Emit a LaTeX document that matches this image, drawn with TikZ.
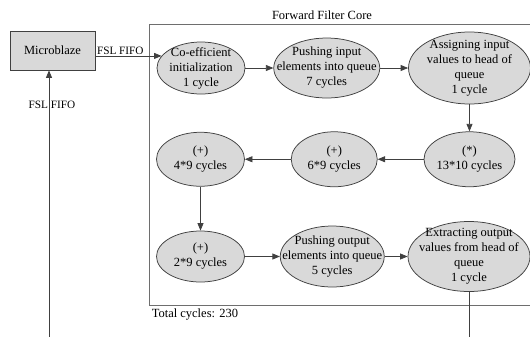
\documentclass[tikz,border=0pt]{standalone}
\usepackage{fontspec}
\setmainfont{Liberation Serif}
\usetikzlibrary{shapes.geometric,positioning,arrows.meta}
\definecolor{linegray}{HTML}{404040}
\definecolor{boxgray}{HTML}{6E6E6E}
\definecolor{fillgray}{HTML}{D9D9D9}

\begin{document}
\begin{tikzpicture}[x=0.8pt, y=0.8pt, font=\fontsize{10}{12}\selectfont,
  stage/.style={ellipse, draw=linegray, fill=fillgray, align=center, inner sep=-40pt, line width=0.6pt},
  flow/.style={draw=linegray, line width=0.6pt, -{Triangle[length=6pt,width=4.8pt]}},
  lbl/.style={font=\fontsize{9}{11}\selectfont, inner sep=1pt}]

\clip (0,0) rectangle (530,-336);

\node (mb) [rectangle, draw=linegray, fill=fillgray, line width=0.6pt, minimum width=68pt, minimum height=31.2pt] at (52.5,-50.5) {Microblaze};
\node (core) [rectangle, draw=boxgray, line width=0.6pt, minimum width=330pt, minimum height=224.8pt, anchor=north west] at (149,-24) {};
\node (title) at (322,-15) {Forward Filter Core};
\node (total) [anchor=north west, inner sep=2pt] at (core.south west) {Total cycles: 230};

\node (coef) [stage, minimum width=70.4pt, minimum height=41.6pt] at (201,-68) {Co-efficient\\initialization\\1 cycle};
\node (pin) [stage, minimum width=84.8pt, minimum height=48pt, right=22.4pt of coef] {Pushing input\\elements into queue\\7 cycles};
\node (asg) [stage, minimum width=97.6pt, minimum height=57.6pt, right=22.4pt of pin] {Assigning input\\values to head of\\queue\\1 cycle};
\node (mult) [stage, minimum width=72.8pt, minimum height=44pt, below=21.6pt of asg] {(*)\\13*10 cycles};
\node (add6) [stage, minimum width=68.8pt, minimum height=44pt, left=36.8pt of mult] {(+)\\6*9 cycles};
\node (add4) [stage, minimum width=70.4pt, minimum height=43.2pt, left=36.8pt of add6] {(+)\\4*9 cycles};
\node (add2) [stage, minimum width=70.4pt, minimum height=40.8pt, below=35.2pt of add4] {(+)\\2*9 cycles};
\node (pout) [stage, minimum width=83.2pt, minimum height=48.8pt, right=28pt of add2] {Pushing output\\elements into queue\\5 cycles};
\node (ext) [stage, minimum width=97.6pt, minimum height=56pt, right=18.4pt of pout] {Extracting output\\values from head of\\queue\\1 cycle};

\draw[flow] (mb.east |- coef.163) -- node (fsl1) [lbl, anchor=south west, pos=0] {FSL FIFO} (coef.163);
\draw[flow] (coef) -- (pin);
\draw[flow] (pin) -- (asg);
\draw[flow] (asg) -- (mult);
\draw[flow] (mult) -- (add6);
\draw[flow] (add6) -- (add4);
\draw[flow] (add4) -- (add2);
\draw[flow] (add2) -- (pout);
\draw[flow] (pout) -- (ext);
\draw[flow] (ext.south) -- ++(0,-60) -| ([xshift=-2.8pt]mb.south);
\node (fsl2) [lbl] at (52,-105) {FSL FIFO};

\end{tikzpicture}
\end{document}
